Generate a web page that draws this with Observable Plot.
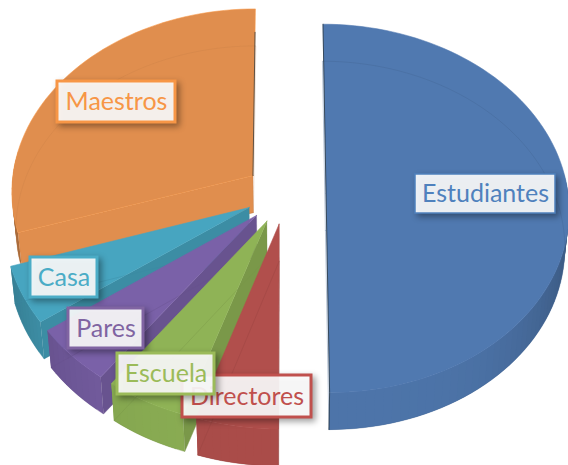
<!DOCTYPE html>
<html>
<head>
<meta charset="utf-8">
<script src="https://cdn.jsdelivr.net/npm/d3@7"></script>
<script src="https://cdn.jsdelivr.net/npm/@observablehq/plot@0.6"></script>
<style>
html,body{margin:0;padding:0;background:#fff;overflow:hidden}
svg{display:block}
</style>
</head>
<body>
<div id="chart"></div>
<script>
// Data: clockwise from 12 o'clock
const categories = ["Estudiantes", "Directores", "Escuela", "Pares", "Casa", "Maestros"];
const shares = [50, 5, 5, 5, 5, 30];

// Styling per category
const faceColors = ["#5079b0", "#b14f4c", "#8fb356", "#7a61a8", "#47a5c0", "#e08e4e"];
const labelColors = ["#4f81bd", "#c0504d", "#9bbb59", "#8064a2", "#4bacc6", "#f79646"];

// Label boxes (page layout, pixels): left, top, right, bottom; drawn in this order
const labelOrder = ["Estudiantes", "Maestros", "Casa", "Pares", "Directores", "Escuela"];
const labelLeft = [415, 57, 30, 68, 182, 117];
const labelTop = [174, 81, 257, 308, 375, 353];
const labelRight = [555, 175, 97, 143, 311, 214];
const labelBottom = [213, 122, 297, 348, 417, 394];

// Drawing order of the exploded slices, back to front
const drawOrder = ["Maestros", "Estudiantes", "Casa", "Pares", "Escuela", "Directores"];

// 3D projection of the pie
const W = 568, H = 465;
const cx = 285, cy = 193, radiusX = 242, radiusY = 183;
const explode = 0.1675, perspective = 0.081, depth = 37 / radiusY, baseShrink = 0.985;

const project = (X, Y, down) => {
  const s = 1 / (1 + perspective * Y);
  return {x: X * s * (down ? baseShrink : 1), y: Y * s - (down ? depth : 0)};
};

const total = d3.sum(shares);
let running = 0;
const slices = categories.map((name, i) => {
  const a0 = running / total * 2 * Math.PI;
  running += shares[i];
  const a1 = running / total * 2 * Math.PI;
  const mid = (a0 + a1) / 2;
  return {name, a0, a1, ox: explode * Math.sin(mid), oy: explode * Math.cos(mid), color: faceColors[i], stroke: labelColors[i]};
});

const arcAngles = s => {
  const n = Math.max(6, Math.ceil((s.a1 - s.a0) / (Math.PI / 90)));
  return d3.range(n + 1).map(k => s.a0 + (s.a1 - s.a0) * k / n);
};
const pt = (s, a, r, down) => project(s.ox + r * Math.sin(a), s.oy + r * Math.cos(a), down);

const closed = pts => [...pts, pts[0]];
const poly = (id, pts, fill) => closed(pts).map(p => ({...p, id, fill}));

const marks = [];
for (const name of drawOrder) {
  const s = slices.find(d => d.name === name);
  const angs = arcAngles(s);
  const top = [pt(s, 0, 0, false), ...angs.map(a => pt(s, a, 1, false))];
  const bottomOutline = closed([pt(s, 0, 0, true), ...angs.map(a => pt(s, a, 1, true))]);

  // outer wall (front half only), shaded by orientation; each quad overlaps the next
  const wall = [];
  angs.slice(0, -1).forEach((a, k) => {
    const b = angs[k + 1];
    const c2 = angs[Math.min(k + 2, angs.length - 1)];
    const mid = (a + b) / 2;
    if (Math.cos(mid) > 0.1) return;
    const shade = 0.12 + 0.75 * Math.pow(Math.abs(Math.sin(mid)), 4);
    const c = d3.color(s.color).darker(shade).formatHex();
    wall.push(...poly(k, [pt(s, a, 1, false), pt(s, c2, 1, false), pt(s, c2, 1, true), pt(s, a, 1, true)], c));
  });
  marks.push(Plot.line(wall, {x: "x", y: "y", z: "id", fill: "fill"}));

  // radial wall on the clockwise-end side facing the viewer
  const wallShade = s.name === "Maestros" ? 0 : 0.45;
  const rEnd = poly("r", [pt(s, 0, 0, false), pt(s, s.a0, 1, false), pt(s, s.a0, 1, true), pt(s, 0, 0, true)],
    d3.color(s.color).darker(wallShade).formatHex());
  if (s.name !== "Estudiantes") marks.push(Plot.line(rEnd, {x: "x", y: "y", z: "id", fill: "fill", stroke: d3.color(s.color).darker(0.6).formatHex(), strokeWidth: 0.4, strokeOpacity: 0.6}));

  // top face, slightly see-through
  marks.push(Plot.line(closed(top), {x: "x", y: "y", fill: s.color, stroke: s.name === "Maestros" ? s.stroke : s.color, strokeWidth: 0.7, strokeOpacity: 0.8}));

  // see-through outline of the base
  marks.push(Plot.line(bottomOutline, {x: "x", y: "y", stroke: d3.color(s.color).darker(0.5).formatHex(), strokeWidth: 0.7, strokeOpacity: s.name === "Maestros" ? 0.3 : 0.5}));

  // dark seam along the flat edge on the inner side
  if (s.name === "Estudiantes" || s.name === "Maestros") {
    const seam = s.name === "Estudiantes"
      ? [pt(s, 0, 1, false), pt(s, 0, 0, false), pt(s, Math.PI, 1, false), pt(s, Math.PI, 1, true)]
      : [pt(s, 0, 0.85, false), pt(s, 0, 0, false)];
    marks.push(Plot.line(seam, {x: "x", y: "y", stroke: "#1c2a30", strokeWidth: 1, strokeOpacity: 0.7}));
  }
}

// Pixel layout to scale values
const toX = px => (px - cx) / radiusX;
const toY = py => (cy - py) / radiusY;

const labels = labelOrder.map((name, i) => {
  const idx = categories.indexOf(name);
  return {
    name,
    x1: toX(labelLeft[i]), x2: toX(labelRight[i]),
    y1: toY(labelTop[i]), y2: toY(labelBottom[i]),
    xm: toX((labelLeft[i] + labelRight[i]) / 2), ym: toY((labelTop[i] + labelBottom[i]) / 2),
    color: labelColors[idx]
  };
});

for (const l of labels) {
  marks.push(Plot.rect([l], {
    x1: "x1", x2: "x2", y1: "y1", y2: "y2",
    fill: "#ffffff", fillOpacity: 0.9,
    stroke: l.color, strokeWidth: l.name === "Estudiantes" ? 1.5 : 3,
    imageFilter: "drop-shadow(3px 3px 3px rgba(0,0,0,0.4))"
  }));
  marks.push(Plot.text([l], {
    x: "xm", y: "ym", text: "name",
    fill: l.color, fontSize: 25, fontFamily: "Lato", textAnchor: "middle", lineAnchor: "middle"
  }));
}

const chart = Plot.plot({
  width: W, height: H,
  margin: 0,
  x: {domain: [toX(0), toX(W)], range: [0, W], axis: null},
  y: {domain: [toY(H), toY(0)], range: [H, 0], axis: null},
  style: {background: "#fff"},
  marks
});
document.getElementById("chart").appendChild(chart);
</script>
</body>
</html>
